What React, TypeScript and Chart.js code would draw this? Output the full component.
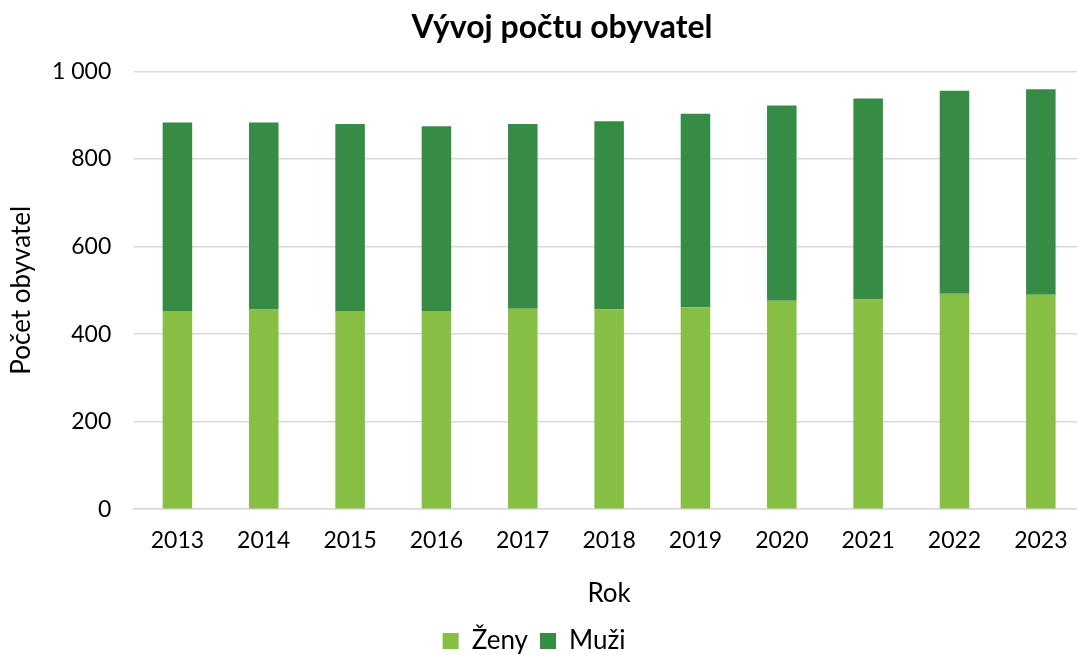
import React, { useEffect, useRef } from "react";
import { Chart, registerables } from "chart.js";

Chart.register(...registerables);

const years = ["2013", "2014", "2015", "2016", "2017", "2018", "2019", "2020", "2021", "2022", "2023"];
const zeny = [453, 456, 453, 453, 458, 457, 461, 476, 479, 492, 490];
const muzi = [430, 427, 427, 422, 422, 429, 442, 446, 459, 464, 469];

const FONT = "Lato, 'Open Sans', sans-serif";

const shiftBlocks = {
  id: "shiftBlocks",
  afterLayout(chart: any) {
    const t = chart.titleBlock;
    if (t) t.left += 31;
    const l = chart.legend;
    if (l) l.right -= 25;
  },
};

export default function App() {
  const ref = useRef<HTMLCanvasElement | null>(null);
  useEffect(() => {
    document.body.style.margin = "0";
    document.body.style.overflow = "hidden";
    const ctx = ref.current!;
    const chart = new Chart(ctx, {
      type: "bar",
      data: {
        labels: years,
        datasets: [
          { label: "Ženy", data: zeny, backgroundColor: "#86bf44", borderWidth: 0 },
          { label: "Muži", data: muzi, backgroundColor: "#378c45", borderWidth: 0 },
        ],
      },
      plugins: [shiftBlocks],
      options: {
        animation: false,
        responsive: false,
        maintainAspectRatio: false,
        datasets: { bar: { categoryPercentage: 0.342, barPercentage: 1 } },
        layout: { padding: { left: 9, right: 0, top: 0, bottom: -9 } },
        plugins: {
          title: {
            display: true,
            text: "Vývoj počtu obyvatel",
            color: "#000",
            font: { family: FONT, size: 32, weight: "bold" },
            padding: { top: 8, bottom: 25 },
          },
          legend: {
            position: "bottom",
            labels: {
              color: "#000",
              font: { family: FONT, size: 26 },
              boxWidth: 16,
              boxHeight: 16,
              padding: 12,
            },
          },
          tooltip: { enabled: false },
        },
        scales: {
          x: {
            stacked: true,
            grid: { display: false },
            border: { display: true, color: "#d9d9d9", width: 1.5 },
            ticks: { color: "#000", font: { family: FONT, size: 23 }, padding: 10 },
            title: {
              display: true,
              text: "Rok",
              color: "#000",
              font: { family: FONT, size: 26 },
              padding: { top: 13, bottom: 7 },
            },
          },
          y: {
            stacked: true,
            min: 0,
            max: 1000,
            grid: { color: "#d9d9d9", lineWidth: 1.5, drawTicks: false },
            border: { display: false },
            ticks: {
              stepSize: 200,
              color: "#000",
              padding: 23,
              font: { family: FONT, size: 23 },
              callback: (v: any) => String(v).replace(/\B(?=(\d{3})+(?!\d))/g, " "),
            },
            title: {
              display: true,
              text: "Počet obyvatel",
              color: "#000",
              font: { family: FONT, size: 26, lineHeight: 1 },
              padding: { top: 0, bottom: -6 },
            },
          },
        },
      } as any,
    });
    return () => chart.destroy();
  }, []);
  return <canvas ref={ref} width={1084} height={655} style={{ display: "block" }} />;
}
